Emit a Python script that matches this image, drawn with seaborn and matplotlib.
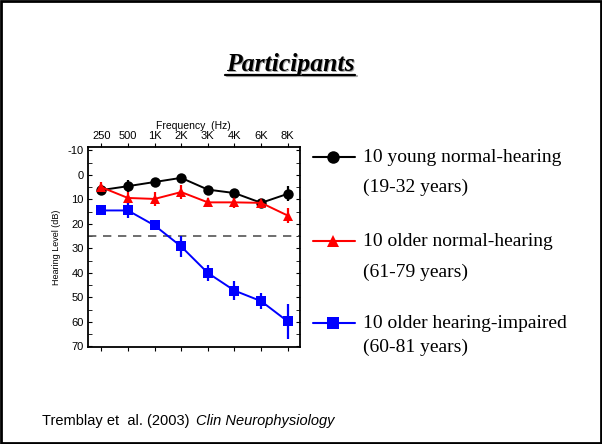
import matplotlib

matplotlib.use("Agg")
import matplotlib.pyplot as plt
import numpy as np
import pandas as pd
import seaborn as sns
from matplotlib.lines import Line2D
from matplotlib.ticker import MultipleLocator

# data (mean hearing level, dB HL, and error bar size)
FREQS = ["250", "500", "1K", "2K", "3K", "4K", "6K", "8K"]
GROUPS = ["10 young normal-hearing", "10 older normal-hearing", "10 older hearing-impaired"]
AGES = ["(19-32 years)", "(61-79 years)", "(60-81 years)"]
young_nh = [6.2, 4.6, 2.9, 1.2, 6.0, 7.4, 11.4, 7.7]
young_err = [2.0, 2.5, 1.8, 1.0, 1.5, 1.5, 1.0, 3.0]
older_nh = [5.0, 9.4, 9.8, 7.0, 11.2, 11.2, 11.4, 16.6]
older_nh_err = [2.2, 2.5, 2.8, 2.8, 1.8, 2.5, 1.0, 3.0]
older_hi = [14.5, 14.5, 20.6, 29.2, 40.0, 47.2, 51.5, 59.8]
older_hi_err = [1.7, 2.9, 1.6, 4.3, 3.4, 4.0, 3.2, 7.0]
NORMAL_LIMIT = 25

COLORS = ["black", "red", "blue"]
MARKERS = ["o", "^", "s"]

df = pd.DataFrame({
    "freq": FREQS * 3,
    "level": young_nh + older_nh + older_hi,
    "group": np.repeat(GROUPS, len(FREQS)),
})
errs = [young_err, older_nh_err, older_hi_err]
means = [young_nh, older_nh, older_hi]

sns.set_style("white")
plt.rcParams["font.family"] = ["Liberation Sans", "DejaVu Sans"]
plt.rcParams["axes.unicode_minus"] = False
plt.rcParams["text.color"] = "black"
plt.rcParams["axes.labelcolor"] = "black"
plt.rcParams["xtick.color"] = "black"
plt.rcParams["ytick.color"] = "black"

fig = plt.figure(figsize=(6.02, 4.44), dpi=100)
ax = fig.add_axes([0.146, 0.2185, 0.352, 0.4505])

x = np.arange(len(FREQS))
ax.axhline(NORMAL_LIMIT, color="#555555", lw=1.2, ls=(0, (5, 4)), zorder=1)
for mean, err, col in zip(means, errs, COLORS):
    ax.errorbar(x, mean, yerr=err, fmt="none", ecolor=col, elinewidth=1.6,
                capsize=0, zorder=2)
sns.lineplot(
    data=df, x="freq", y="level", hue="group", style="group",
    palette=COLORS, markers=MARKERS, dashes=False, sort=False,
    markersize=7.5, markeredgewidth=0, linewidth=1.4, legend=False, ax=ax, zorder=3,
)

ax.set_xlim(-0.5, 7.45)
ax.set_ylim(70.2, -11.4)
ax.set_xticks(x)
ax.set_xticklabels(FREQS)
ax.xaxis.set_label_position("top")
ax.xaxis.tick_top()
ax.set_xlabel("Frequency  (Hz)", fontsize=7.5, labelpad=2)
ax.set_ylabel("Hearing Level (dB)", fontsize=6.5, labelpad=5)
ax.set_yticks(np.arange(-10, 71, 10))
ax.yaxis.set_minor_locator(MultipleLocator(5))
ax.tick_params(axis="x", which="both", top=True, bottom=True, direction="out",
               length=3, labelsize=8, pad=1)
ax.tick_params(axis="y", which="both", left=True, right=True, direction="in",
               length=3, labelsize=8, pad=3)
for sp in ax.spines.values():
    sp.set_color("black")
    sp.set_linewidth(1.3)

# legend drawn as slide text
serif = ["Liberation Serif", "DejaVu Serif"]
leg_y = [157, 241, 323]
age_y = [187, 272, 347]
for gy, ay, name, age, col, mk in zip(leg_y, age_y, GROUPS, AGES, COLORS, MARKERS):
    yf = 1 - gy / 444
    fig.add_artist(Line2D([313 / 602, 355 / 602], [yf, yf], color=col, lw=1.5,
                          transform=fig.transFigure))
    fig.add_artist(Line2D([333 / 602], [yf], color=col, marker=mk, markersize=9,
                          markeredgewidth=0, transform=fig.transFigure))
    fig.text(363 / 602, yf, name, family=serif, fontsize=14, va="center")
    fig.text(363 / 602, 1 - ay / 444, age, family=serif, fontsize=14, va="center")

# title with shadow and underline
for dx, col in [(1.5, "#aaaaaa"), (0, "black")]:
    fig.text((290 + dx) / 602, 1 - (64 + dx) / 444, "Participants", family=serif,
             fontsize=18.5, fontweight="bold", fontstyle="italic", color=col,
             ha="center", va="center")
    fig.add_artist(Line2D([(225 + dx) / 602, (355 + dx) / 602],
                          [1 - (75 + dx) / 444, 1 - (75 + dx) / 444],
                          color=col, lw=1.6, transform=fig.transFigure))

fig.text(42 / 602, 1 - 421 / 444, "Tremblay et  al. (2003) ", fontsize=10.5,
         va="center")
fig.text(196 / 602, 1 - 421 / 444, "Clin Neurophysiology", fontsize=10.5,
         fontstyle="italic", va="center")

fig.add_artist(plt.Rectangle((0.002, 0.003), 0.996, 0.994, fill=False,
                             edgecolor="black", lw=2, transform=fig.transFigure))

fig.savefig("out.png", dpi=100)
